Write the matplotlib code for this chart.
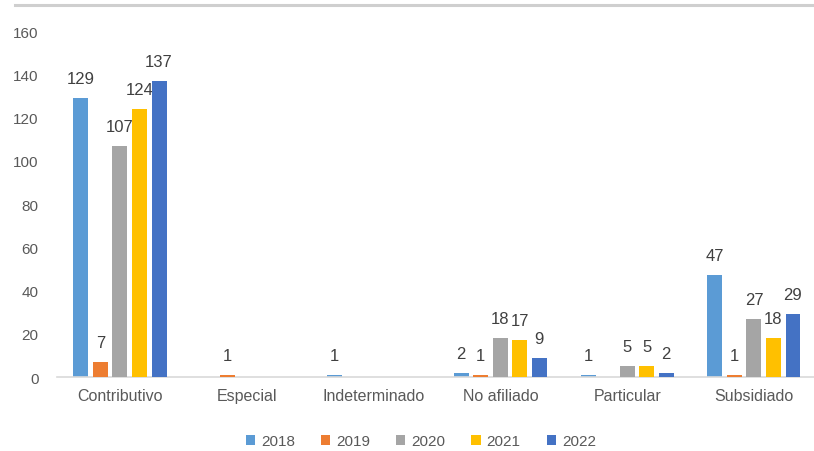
import matplotlib.pyplot as plt
import numpy as np
from matplotlib.lines import Line2D

# Afiliados por régimen y año
categorias = ['Contributivo', 'Especial', 'Indeterminado', 'No afiliado', 'Particular', 'Subsidiado']
anios = ['2018', '2019', '2020', '2021', '2022']
v2018 = [129, 0, 1, 2, 1, 47]
v2019 = [7, 1, 0, 1, 0, 1]
v2020 = [107, 0, 0, 18, 5, 27]
v2021 = [124, 0, 0, 17, 5, 18]
v2022 = [137, 0, 0, 9, 2, 29]
series = [v2018, v2019, v2020, v2021, v2022]
colores = ['#5B9BD5', '#ED7D31', '#A5A5A5', '#FFC000', '#4472C4']

plt.rcParams['font.family'] = ['Liberation Sans', 'DejaVu Sans']
texto = '#595959'

fig = plt.figure(figsize=(8.14, 4.52), dpi=100)
ax = fig.add_axes([0.0695, 0.1637, 0.9346, 0.7655])

x = np.arange(len(categorias))
paso = 0.154
ancho = 0.118
for i, (vals, col) in enumerate(zip(series, colores)):
    pos = x + (i - 2) * paso
    ax.bar(pos, vals, width=ancho, color=col, zorder=2 + i, label=anios[i])
    for p, v in zip(pos, vals):
        if v == 0:
            continue
        ax.annotate(str(v), (p, v), xytext=(0, 14), textcoords='offset points',
                    ha='center', va='center', fontsize=12, color='#404040',
                    zorder=2.5 + i)

ax.set_xlim(-0.5, len(categorias) - 0.5)
ax.set_ylim(0, 160)
ax.set_yticks(range(0, 161, 20))
ax.set_xticks(x)
ax.set_xticklabels(categorias)
ax.tick_params(axis='both', length=0, colors=texto, labelsize=11)
ax.tick_params(axis='y', pad=13)
ax.tick_params(axis='x', pad=8, labelsize=11.5)
for s in ['top', 'right', 'left']:
    ax.spines[s].set_visible(False)
ax.spines['bottom'].set_color('#D9D9D9')
ax.spines['bottom'].set_linewidth(1.2)

ax.legend(loc='center', bbox_to_anchor=(0.517, 0.022), bbox_transform=fig.transFigure,
          ncol=5, frameon=False, fontsize=11, handlelength=0.6, handleheight=0.6,
          handletextpad=0.4, columnspacing=1.7, labelcolor=texto)

# borde superior del gráfico
fig.add_artist(Line2D([0.018, 1.0], [0.986, 0.986], color='#CFCFCF', lw=2.2,
                      transform=fig.transFigure))

fig.savefig('out.png', dpi=100)
